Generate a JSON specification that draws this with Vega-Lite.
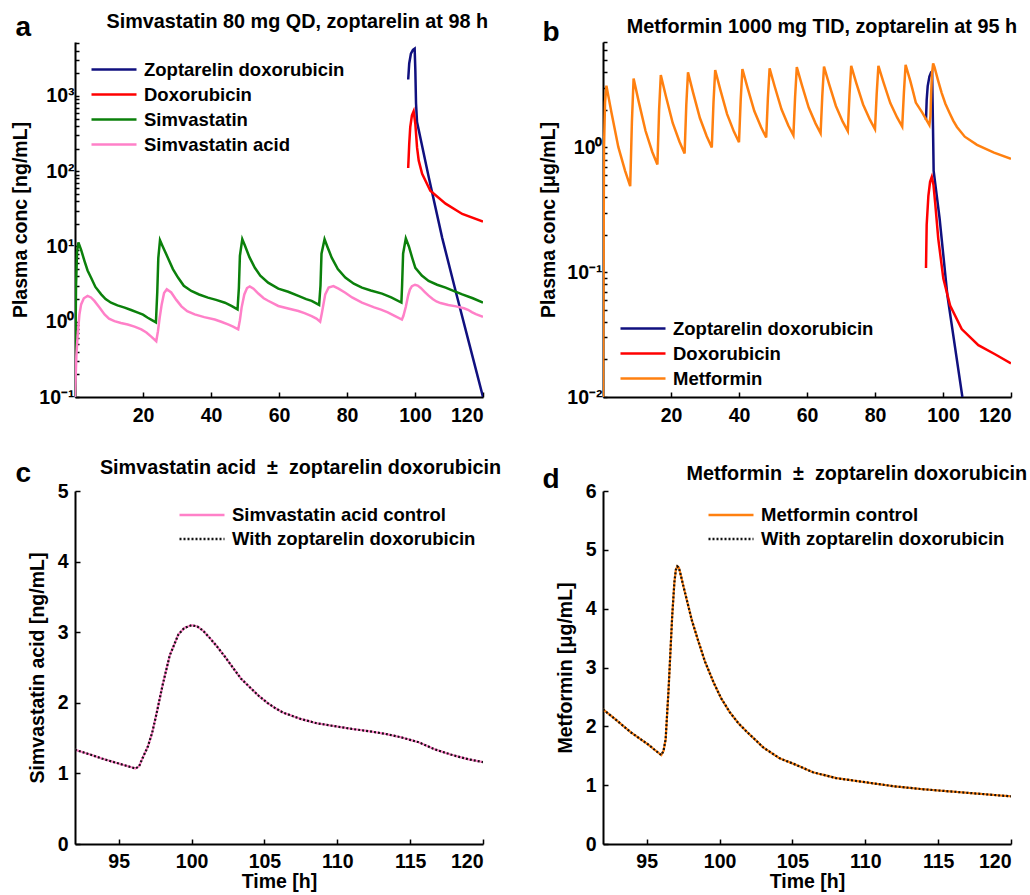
{
  "$schema": "https://vega.github.io/schema/vega-lite/v6.json",
  "padding": {"left": 10, "top": 12, "right": 2, "bottom": 2},
  "background": "white",
  "config": {
    "font": "Liberation Sans",
    "view": {"stroke": null},
    "axis": {
      "grid": false,
      "domainColor": "black",
      "domainWidth": 2,
      "tickColor": "black",
      "tickWidth": 1.5,
      "tickSize": -5,
      "labelPadding": 14,
      "labelFont": "Liberation Sans",
      "labelFontSize": 19.5,
      "labelFontWeight": "bold",
      "labelColor": "black",
      "labelOverlap": false,
      "titleFont": "Liberation Sans",
      "titleFontSize": 19.5,
      "titleFontWeight": "bold",
      "titleColor": "black"
    },
    "legend": {
      "title": null,
      "padding": 0,
      "symbolType": "stroke",
      "symbolSize": 2025,
      "symbolStrokeWidth": 2.5,
      "labelFont": "Liberation Sans",
      "labelFontSize": 18.5,
      "labelFontWeight": "bold",
      "labelColor": "black",
      "labelOffset": 6,
      "rowPadding": 0,
      "clipHeight": 25,
      "labelLimit": 400
    },
    "title": {"font": "Liberation Sans", "fontSize": 19.8, "fontWeight": "bold", "color": "black"}
  },
  "columns": 2,
  "bounds": "flush",
  "spacing": {"row": 94, "column": 120},
  "resolve": {"scale": {"color": "independent", "strokeDash": "independent", "x": "independent", "y": "independent"}, "legend": {"color": "independent", "strokeDash": "independent"}},
  "concat": [
    {
      "width": 408,
      "height": 355,
      "title": {"text": "Simvastatin 80 mg QD, zoptarelin at 98 h", "anchor": "end", "frame": "group", "dx": 5, "offset": -19},
      "layer": [
        {
          "data": {"values": [
            {"s": "Zoptarelin doxorubicin", "t": 98.0, "v": 1650},
            {"s": "Zoptarelin doxorubicin", "t": 98.3, "v": 2700},
            {"s": "Zoptarelin doxorubicin", "t": 98.8, "v": 3640},
            {"s": "Zoptarelin doxorubicin", "t": 99.4, "v": 4100},
            {"s": "Zoptarelin doxorubicin", "t": 99.9, "v": 4250},
            {"s": "Zoptarelin doxorubicin", "t": 100.1, "v": 2200},
            {"s": "Zoptarelin doxorubicin", "t": 100.3, "v": 800},
            {"s": "Zoptarelin doxorubicin", "t": 100.6, "v": 450},
            {"s": "Zoptarelin doxorubicin", "t": 104, "v": 85},
            {"s": "Zoptarelin doxorubicin", "t": 108, "v": 13},
            {"s": "Zoptarelin doxorubicin", "t": 112, "v": 2.5},
            {"s": "Zoptarelin doxorubicin", "t": 116, "v": 0.5},
            {"s": "Zoptarelin doxorubicin", "t": 120, "v": 0.1},
            {"s": "Doxorubicin", "t": 98.0, "v": 110},
            {"s": "Doxorubicin", "t": 98.3, "v": 230},
            {"s": "Doxorubicin", "t": 98.6, "v": 385},
            {"s": "Doxorubicin", "t": 99.1, "v": 550},
            {"s": "Doxorubicin", "t": 99.6, "v": 625},
            {"s": "Doxorubicin", "t": 100.1, "v": 425},
            {"s": "Doxorubicin", "t": 100.6, "v": 207},
            {"s": "Doxorubicin", "t": 101.1, "v": 138},
            {"s": "Doxorubicin", "t": 102.1, "v": 92},
            {"s": "Doxorubicin", "t": 104.5, "v": 55},
            {"s": "Doxorubicin", "t": 109, "v": 37},
            {"s": "Doxorubicin", "t": 113.9, "v": 27},
            {"s": "Doxorubicin", "t": 120, "v": 21.4},
            {"s": "Simvastatin", "t": 0, "v": 0.1},
            {"s": "Simvastatin", "t": 0.3, "v": 3},
            {"s": "Simvastatin", "t": 0.6, "v": 8.5},
            {"s": "Simvastatin", "t": 1.0, "v": 11.3},
            {"s": "Simvastatin", "t": 1.8, "v": 9.0},
            {"s": "Simvastatin", "t": 2.8, "v": 6.4},
            {"s": "Simvastatin", "t": 3.7, "v": 4.8},
            {"s": "Simvastatin", "t": 4.7, "v": 3.86},
            {"s": "Simvastatin", "t": 6, "v": 2.9},
            {"s": "Simvastatin", "t": 7.7, "v": 2.31},
            {"s": "Simvastatin", "t": 9, "v": 2.0},
            {"s": "Simvastatin", "t": 10.6, "v": 1.79},
            {"s": "Simvastatin", "t": 12.5, "v": 1.65},
            {"s": "Simvastatin", "t": 14.6, "v": 1.54},
            {"s": "Simvastatin", "t": 16.5, "v": 1.43},
            {"s": "Simvastatin", "t": 18.5, "v": 1.32},
            {"s": "Simvastatin", "t": 20, "v": 1.24},
            {"s": "Simvastatin", "t": 21.4, "v": 1.13},
            {"s": "Simvastatin", "t": 22.5, "v": 1.06},
            {"s": "Simvastatin", "t": 23.8, "v": 0.98},
            {"s": "Simvastatin", "t": 24.2, "v": 2.5},
            {"s": "Simvastatin", "t": 24.5, "v": 7},
            {"s": "Simvastatin", "t": 25.0, "v": 12.1},
            {"s": "Simvastatin", "t": 25.8, "v": 10},
            {"s": "Simvastatin", "t": 27.3, "v": 7.1},
            {"s": "Simvastatin", "t": 28.8, "v": 5.0},
            {"s": "Simvastatin", "t": 30.3, "v": 3.86},
            {"s": "Simvastatin", "t": 32, "v": 3.0},
            {"s": "Simvastatin", "t": 34.2, "v": 2.56},
            {"s": "Simvastatin", "t": 36.5, "v": 2.3},
            {"s": "Simvastatin", "t": 39.1, "v": 2.09},
            {"s": "Simvastatin", "t": 41.5, "v": 1.95},
            {"s": "Simvastatin", "t": 44.1, "v": 1.79},
            {"s": "Simvastatin", "t": 46, "v": 1.62},
            {"s": "Simvastatin", "t": 47.8, "v": 1.46},
            {"s": "Simvastatin", "t": 48.2, "v": 2.8},
            {"s": "Simvastatin", "t": 48.5, "v": 7.5},
            {"s": "Simvastatin", "t": 49.2, "v": 12.5},
            {"s": "Simvastatin", "t": 50, "v": 10.2},
            {"s": "Simvastatin", "t": 51.3, "v": 7.2},
            {"s": "Simvastatin", "t": 52.9, "v": 5.2},
            {"s": "Simvastatin", "t": 54.5, "v": 4.1},
            {"s": "Simvastatin", "t": 56.8, "v": 3.3},
            {"s": "Simvastatin", "t": 59.8, "v": 2.75},
            {"s": "Simvastatin", "t": 62.7, "v": 2.5},
            {"s": "Simvastatin", "t": 65.7, "v": 2.2},
            {"s": "Simvastatin", "t": 68, "v": 2.0},
            {"s": "Simvastatin", "t": 69.6, "v": 1.89},
            {"s": "Simvastatin", "t": 71.8, "v": 1.67},
            {"s": "Simvastatin", "t": 72.2, "v": 3},
            {"s": "Simvastatin", "t": 72.5, "v": 8},
            {"s": "Simvastatin", "t": 73.4, "v": 12.5},
            {"s": "Simvastatin", "t": 74.2, "v": 10},
            {"s": "Simvastatin", "t": 75.5, "v": 7.1},
            {"s": "Simvastatin", "t": 77.3, "v": 5.0},
            {"s": "Simvastatin", "t": 79.5, "v": 3.86},
            {"s": "Simvastatin", "t": 82, "v": 3.2},
            {"s": "Simvastatin", "t": 84.4, "v": 2.84},
            {"s": "Simvastatin", "t": 87, "v": 2.6},
            {"s": "Simvastatin", "t": 90.3, "v": 2.36},
            {"s": "Simvastatin", "t": 93, "v": 2.1},
            {"s": "Simvastatin", "t": 96, "v": 1.8},
            {"s": "Simvastatin", "t": 96.2, "v": 3},
            {"s": "Simvastatin", "t": 96.5, "v": 8},
            {"s": "Simvastatin", "t": 97.3, "v": 12.8},
            {"s": "Simvastatin", "t": 98.2, "v": 10},
            {"s": "Simvastatin", "t": 99.2, "v": 7},
            {"s": "Simvastatin", "t": 100.1, "v": 5.2},
            {"s": "Simvastatin", "t": 102, "v": 4.1},
            {"s": "Simvastatin", "t": 104, "v": 3.48},
            {"s": "Simvastatin", "t": 106.5, "v": 3.1},
            {"s": "Simvastatin", "t": 109, "v": 2.84},
            {"s": "Simvastatin", "t": 111.5, "v": 2.55},
            {"s": "Simvastatin", "t": 113.9, "v": 2.31},
            {"s": "Simvastatin", "t": 117, "v": 2.05},
            {"s": "Simvastatin", "t": 120, "v": 1.8},
            {"s": "Simvastatin acid", "t": 0, "v": 0.1},
            {"s": "Simvastatin acid", "t": 0.4, "v": 0.35},
            {"s": "Simvastatin acid", "t": 0.8, "v": 0.68},
            {"s": "Simvastatin acid", "t": 1.3, "v": 1.25},
            {"s": "Simvastatin acid", "t": 1.8, "v": 1.7},
            {"s": "Simvastatin acid", "t": 2.6, "v": 2.05},
            {"s": "Simvastatin acid", "t": 3.7, "v": 2.2},
            {"s": "Simvastatin acid", "t": 4.7, "v": 2.1},
            {"s": "Simvastatin acid", "t": 5.7, "v": 1.89},
            {"s": "Simvastatin acid", "t": 7.2, "v": 1.55},
            {"s": "Simvastatin acid", "t": 8.7, "v": 1.25},
            {"s": "Simvastatin acid", "t": 10, "v": 1.1},
            {"s": "Simvastatin acid", "t": 11.6, "v": 1.02},
            {"s": "Simvastatin acid", "t": 13.5, "v": 0.96},
            {"s": "Simvastatin acid", "t": 15.5, "v": 0.92},
            {"s": "Simvastatin acid", "t": 17.5, "v": 0.86},
            {"s": "Simvastatin acid", "t": 19.5, "v": 0.79},
            {"s": "Simvastatin acid", "t": 21, "v": 0.72},
            {"s": "Simvastatin acid", "t": 22.5, "v": 0.63},
            {"s": "Simvastatin acid", "t": 23.9, "v": 0.55},
            {"s": "Simvastatin acid", "t": 24.4, "v": 0.75},
            {"s": "Simvastatin acid", "t": 24.9, "v": 1.13},
            {"s": "Simvastatin acid", "t": 25.5, "v": 1.7},
            {"s": "Simvastatin acid", "t": 26.2, "v": 2.4},
            {"s": "Simvastatin acid", "t": 27, "v": 2.7},
            {"s": "Simvastatin acid", "t": 28.3, "v": 2.45},
            {"s": "Simvastatin acid", "t": 29.8, "v": 1.95},
            {"s": "Simvastatin acid", "t": 31.3, "v": 1.6},
            {"s": "Simvastatin acid", "t": 33, "v": 1.38},
            {"s": "Simvastatin acid", "t": 35.2, "v": 1.25},
            {"s": "Simvastatin acid", "t": 38, "v": 1.15},
            {"s": "Simvastatin acid", "t": 41.1, "v": 1.07},
            {"s": "Simvastatin acid", "t": 43, "v": 1.0},
            {"s": "Simvastatin acid", "t": 45, "v": 0.92},
            {"s": "Simvastatin acid", "t": 46.5, "v": 0.86},
            {"s": "Simvastatin acid", "t": 48, "v": 0.79},
            {"s": "Simvastatin acid", "t": 48.5, "v": 1.05},
            {"s": "Simvastatin acid", "t": 49, "v": 1.54},
            {"s": "Simvastatin acid", "t": 49.8, "v": 2.3},
            {"s": "Simvastatin acid", "t": 50.6, "v": 2.8},
            {"s": "Simvastatin acid", "t": 51.4, "v": 2.95},
            {"s": "Simvastatin acid", "t": 52.5, "v": 2.75},
            {"s": "Simvastatin acid", "t": 54, "v": 2.35},
            {"s": "Simvastatin acid", "t": 55.5, "v": 2.05},
            {"s": "Simvastatin acid", "t": 56.8, "v": 1.9},
            {"s": "Simvastatin acid", "t": 59.8, "v": 1.62},
            {"s": "Simvastatin acid", "t": 62.7, "v": 1.5},
            {"s": "Simvastatin acid", "t": 65.7, "v": 1.39},
            {"s": "Simvastatin acid", "t": 67.5, "v": 1.3},
            {"s": "Simvastatin acid", "t": 69.6, "v": 1.19},
            {"s": "Simvastatin acid", "t": 71, "v": 1.1},
            {"s": "Simvastatin acid", "t": 72.1, "v": 1.0},
            {"s": "Simvastatin acid", "t": 72.6, "v": 1.3},
            {"s": "Simvastatin acid", "t": 73.6, "v": 2.31},
            {"s": "Simvastatin acid", "t": 74.6, "v": 2.85},
            {"s": "Simvastatin acid", "t": 76, "v": 2.98},
            {"s": "Simvastatin acid", "t": 77.5, "v": 2.75},
            {"s": "Simvastatin acid", "t": 79.5, "v": 2.43},
            {"s": "Simvastatin acid", "t": 81.5, "v": 2.1},
            {"s": "Simvastatin acid", "t": 84.4, "v": 1.79},
            {"s": "Simvastatin acid", "t": 88, "v": 1.55},
            {"s": "Simvastatin acid", "t": 90, "v": 1.45},
            {"s": "Simvastatin acid", "t": 92, "v": 1.335},
            {"s": "Simvastatin acid", "t": 94, "v": 1.2},
            {"s": "Simvastatin acid", "t": 96.15, "v": 1.07},
            {"s": "Simvastatin acid", "t": 96.6, "v": 1.2},
            {"s": "Simvastatin acid", "t": 97.3, "v": 1.58},
            {"s": "Simvastatin acid", "t": 98, "v": 2.24},
            {"s": "Simvastatin acid", "t": 98.5, "v": 2.67},
            {"s": "Simvastatin acid", "t": 99.1, "v": 2.97},
            {"s": "Simvastatin acid", "t": 100, "v": 3.1},
            {"s": "Simvastatin acid", "t": 100.8, "v": 3.02},
            {"s": "Simvastatin acid", "t": 101.7, "v": 2.81},
            {"s": "Simvastatin acid", "t": 102.9, "v": 2.48},
            {"s": "Simvastatin acid", "t": 104, "v": 2.22},
            {"s": "Simvastatin acid", "t": 105.2, "v": 2.0},
            {"s": "Simvastatin acid", "t": 106.3, "v": 1.86},
            {"s": "Simvastatin acid", "t": 107.5, "v": 1.77},
            {"s": "Simvastatin acid", "t": 109.8, "v": 1.67},
            {"s": "Simvastatin acid", "t": 112.1, "v": 1.6},
            {"s": "Simvastatin acid", "t": 114.4, "v": 1.51},
            {"s": "Simvastatin acid", "t": 115.6, "v": 1.44},
            {"s": "Simvastatin acid", "t": 116.7, "v": 1.34},
            {"s": "Simvastatin acid", "t": 117.9, "v": 1.26},
            {"s": "Simvastatin acid", "t": 120, "v": 1.16}
          ]},
          "mark": {"type": "line", "strokeWidth": 2.5, "clip": true},
          "encoding": {
            "x": {"field": "t", "type": "quantitative", "scale": {"domain": [0, 120], "nice": false},
                  "axis": {"values": [20, 40, 60, 80, 100, 120], "title": null}},
            "y": {"field": "v", "type": "quantitative", "scale": {"type": "log", "domain": [0.1, 5200], "nice": false},
                  "axis": {"title": "Plasma conc [ng/mL]", "titlePadding": 8, "labelPadding": 5, "tickSize": -4,
                           "values": [0.1,0.2,0.3,0.4,0.5,0.6,0.7,0.8,0.9,1,2,3,4,5,6,7,8,9,10,20,30,40,50,60,70,80,90,100,200,300,400,500,600,700,800,900,1000,2000,3000,4000,5000],
                           "labelExpr": "datum.value == 0.1 ? '10⁻¹' : datum.value == 1 ? '10⁰' : datum.value == 10 ? '10¹' : datum.value == 100 ? '10²' : datum.value == 1000 ? '10³' : ''"}},
            "color": {"field": "s", "type": "nominal",
                      "scale": {"domain": ["Zoptarelin doxorubicin", "Doxorubicin", "Simvastatin", "Simvastatin acid"], "range": ["#10107F", "#FF0000", "#0B800B", "#FF80C8"]},
                      "legend": {"orient": "none", "legendX": 15, "legendY": 15}}
          }
        },
        {
          "data": {"values": [{"t": 60}]},
          "mark": {"type": "point", "opacity": 0},
          "encoding": {
            "x": {"field": "t", "type": "quantitative", "scale": {"domain": [0, 120], "nice": false},
                  "axis": {"orient": "top", "domain": false, "ticks": false, "labels": false, "title": "a",
                           "titleX": -60, "titleY": -7, "titleAlign": "left", "titleBaseline": "alphabetic", "titleAngle": 0, "titleFontSize": 28}}
          }
        }
      ],
      "resolve": {"axis": {"x": "independent"}}
    },
    {
      "width": 408,
      "height": 355,
      "title": {"text": "Metformin 1000 mg TID, zoptarelin at 95 h", "anchor": "end", "frame": "group", "dx": 6, "offset": -19},
      "layer": [
        {
          "data": {"values": [
            {"s": "Zoptarelin doxorubicin", "t": 95.0, "v": 1.66},
            {"s": "Zoptarelin doxorubicin", "t": 95.2, "v": 2.4},
            {"s": "Zoptarelin doxorubicin", "t": 95.5, "v": 3.1},
            {"s": "Zoptarelin doxorubicin", "t": 96.0, "v": 3.7},
            {"s": "Zoptarelin doxorubicin", "t": 96.5, "v": 4.0},
            {"s": "Zoptarelin doxorubicin", "t": 96.8, "v": 4.05},
            {"s": "Zoptarelin doxorubicin", "t": 97.05, "v": 1.5},
            {"s": "Zoptarelin doxorubicin", "t": 97.25, "v": 0.65},
            {"s": "Zoptarelin doxorubicin", "t": 99, "v": 0.27},
            {"s": "Zoptarelin doxorubicin", "t": 101.3, "v": 0.065},
            {"s": "Zoptarelin doxorubicin", "t": 105.7, "v": 0.01},
            {"s": "Doxorubicin", "t": 95.0, "v": 0.108},
            {"s": "Doxorubicin", "t": 95.2, "v": 0.24},
            {"s": "Doxorubicin", "t": 95.7, "v": 0.41},
            {"s": "Doxorubicin", "t": 96.2, "v": 0.53},
            {"s": "Doxorubicin", "t": 96.7, "v": 0.58},
            {"s": "Doxorubicin", "t": 97.2, "v": 0.5},
            {"s": "Doxorubicin", "t": 97.7, "v": 0.36},
            {"s": "Doxorubicin", "t": 98.6, "v": 0.186},
            {"s": "Doxorubicin", "t": 100.1, "v": 0.089},
            {"s": "Doxorubicin", "t": 102.1, "v": 0.054},
            {"s": "Doxorubicin", "t": 105.5, "v": 0.035},
            {"s": "Doxorubicin", "t": 110.4, "v": 0.026},
            {"s": "Doxorubicin", "t": 115.3, "v": 0.022},
            {"s": "Doxorubicin", "t": 120, "v": 0.0186},
            {"s": "Metformin", "t": 0, "v": 0.01},
            {"s": "Metformin", "t": 0.3, "v": 1.0},
            {"s": "Metformin", "t": 0.6, "v": 2.3},
            {"s": "Metformin", "t": 1.0, "v": 3.13},
            {"s": "Metformin", "t": 2.5, "v": 1.9},
            {"s": "Metformin", "t": 4.5, "v": 1.01},
            {"s": "Metformin", "t": 6.5, "v": 0.65},
            {"s": "Metformin", "t": 8.0, "v": 0.49},
            {"s": "Metformin", "t": 8.5, "v": 1.6},
            {"s": "Metformin", "t": 9.0, "v": 3.57},
            {"s": "Metformin", "t": 10.5, "v": 2.33},
            {"s": "Metformin", "t": 12.5, "v": 1.36},
            {"s": "Metformin", "t": 14.5, "v": 0.92},
            {"s": "Metformin", "t": 16, "v": 0.73},
            {"s": "Metformin", "t": 16.5, "v": 2.0},
            {"s": "Metformin", "t": 17, "v": 3.8},
            {"s": "Metformin", "t": 18.5, "v": 2.57},
            {"s": "Metformin", "t": 20.5, "v": 1.57},
            {"s": "Metformin", "t": 22.5, "v": 1.11},
            {"s": "Metformin", "t": 24, "v": 0.895},
            {"s": "Metformin", "t": 24.5, "v": 2.2},
            {"s": "Metformin", "t": 25, "v": 4.0},
            {"s": "Metformin", "t": 26.5, "v": 2.75},
            {"s": "Metformin", "t": 28.5, "v": 1.72},
            {"s": "Metformin", "t": 30.5, "v": 1.23},
            {"s": "Metformin", "t": 32, "v": 1.0},
            {"s": "Metformin", "t": 32.5, "v": 2.3},
            {"s": "Metformin", "t": 33, "v": 4.17},
            {"s": "Metformin", "t": 34.5, "v": 2.91},
            {"s": "Metformin", "t": 36.5, "v": 1.85},
            {"s": "Metformin", "t": 38.5, "v": 1.34},
            {"s": "Metformin", "t": 40, "v": 1.1},
            {"s": "Metformin", "t": 40.5, "v": 2.4},
            {"s": "Metformin", "t": 41, "v": 4.25},
            {"s": "Metformin", "t": 42.5, "v": 3.02},
            {"s": "Metformin", "t": 44.5, "v": 1.96},
            {"s": "Metformin", "t": 46.5, "v": 1.45},
            {"s": "Metformin", "t": 48, "v": 1.2},
            {"s": "Metformin", "t": 48.5, "v": 2.5},
            {"s": "Metformin", "t": 49, "v": 4.3},
            {"s": "Metformin", "t": 50.5, "v": 3.08},
            {"s": "Metformin", "t": 52.5, "v": 2.02},
            {"s": "Metformin", "t": 54.5, "v": 1.5},
            {"s": "Metformin", "t": 56, "v": 1.25},
            {"s": "Metformin", "t": 56.5, "v": 2.55},
            {"s": "Metformin", "t": 57, "v": 4.4},
            {"s": "Metformin", "t": 58.5, "v": 3.16},
            {"s": "Metformin", "t": 60.5, "v": 2.09},
            {"s": "Metformin", "t": 62.5, "v": 1.56},
            {"s": "Metformin", "t": 64, "v": 1.3},
            {"s": "Metformin", "t": 64.5, "v": 2.6},
            {"s": "Metformin", "t": 65, "v": 4.45},
            {"s": "Metformin", "t": 66.5, "v": 3.22},
            {"s": "Metformin", "t": 68.5, "v": 2.15},
            {"s": "Metformin", "t": 70.5, "v": 1.61},
            {"s": "Metformin", "t": 72, "v": 1.35},
            {"s": "Metformin", "t": 72.5, "v": 2.65},
            {"s": "Metformin", "t": 73, "v": 4.5},
            {"s": "Metformin", "t": 74.5, "v": 3.28},
            {"s": "Metformin", "t": 76.5, "v": 2.21},
            {"s": "Metformin", "t": 78.5, "v": 1.67},
            {"s": "Metformin", "t": 80, "v": 1.4},
            {"s": "Metformin", "t": 80.5, "v": 2.7},
            {"s": "Metformin", "t": 81, "v": 4.5},
            {"s": "Metformin", "t": 82.5, "v": 3.33},
            {"s": "Metformin", "t": 84.5, "v": 2.27},
            {"s": "Metformin", "t": 86.5, "v": 1.74},
            {"s": "Metformin", "t": 88, "v": 1.47},
            {"s": "Metformin", "t": 88.5, "v": 2.75},
            {"s": "Metformin", "t": 89, "v": 4.6},
            {"s": "Metformin", "t": 90.4, "v": 3.4},
            {"s": "Metformin", "t": 91.2, "v": 2.8},
            {"s": "Metformin", "t": 92, "v": 2.29},
            {"s": "Metformin", "t": 93.9, "v": 1.9},
            {"s": "Metformin", "t": 96, "v": 1.51},
            {"s": "Metformin", "t": 96.3, "v": 1.78},
            {"s": "Metformin", "t": 96.5, "v": 2.63},
            {"s": "Metformin", "t": 96.75, "v": 3.88},
            {"s": "Metformin", "t": 97.1, "v": 4.72},
            {"s": "Metformin", "t": 97.5, "v": 4.4},
            {"s": "Metformin", "t": 98.5, "v": 3.48},
            {"s": "Metformin", "t": 99.6, "v": 2.74},
            {"s": "Metformin", "t": 100.7, "v": 2.24},
            {"s": "Metformin", "t": 101.9, "v": 1.9},
            {"s": "Metformin", "t": 103, "v": 1.64},
            {"s": "Metformin", "t": 104.1, "v": 1.46},
            {"s": "Metformin", "t": 106.4, "v": 1.22},
            {"s": "Metformin", "t": 110, "v": 1.05},
            {"s": "Metformin", "t": 115, "v": 0.91},
            {"s": "Metformin", "t": 120, "v": 0.81}
          ]},
          "mark": {"type": "line", "strokeWidth": 2.5, "clip": true},
          "encoding": {
            "x": {"field": "t", "type": "quantitative", "scale": {"domain": [0, 120], "nice": false},
                  "axis": {"values": [20, 40, 60, 80, 100, 120], "title": null}},
            "y": {"field": "v", "type": "quantitative", "scale": {"type": "log", "domain": [0.01, 7], "nice": false},
                  "axis": {"title": "Plasma conc [μg/mL]", "titlePadding": 8, "labelPadding": 5, "tickSize": -4,
                           "values": [0.01,0.02,0.03,0.04,0.05,0.06,0.07,0.08,0.09,0.1,0.2,0.3,0.4,0.5,0.6,0.7,0.8,0.9,1,2,3,4,5,6,7],
                           "labelExpr": "datum.value == 0.01 ? '10⁻²' : datum.value == 0.1 ? '10⁻¹' : datum.value == 1 ? '10⁰' : ''"}},
            "color": {"field": "s", "type": "nominal",
                      "scale": {"domain": ["Zoptarelin doxorubicin", "Doxorubicin", "Metformin"], "range": ["#10107F", "#FF0000", "#FF8010"]},
                      "legend": {"orient": "none", "legendX": 16, "legendY": 274}}
          }
        },
        {
          "data": {"values": [{"t": 60}]},
          "mark": {"type": "point", "opacity": 0},
          "encoding": {
            "x": {"field": "t", "type": "quantitative", "scale": {"domain": [0, 120], "nice": false},
                  "axis": {"orient": "top", "domain": false, "ticks": false, "labels": false, "title": "b",
                           "titleX": -61, "titleY": -2, "titleAlign": "left", "titleBaseline": "alphabetic", "titleAngle": 0, "titleFontSize": 28}}
          }
        }
      ],
      "resolve": {"axis": {"x": "independent"}}
    },
    {
      "width": 408,
      "height": 353,
      "title": {"text": "Simvastatin acid\u00a0 ±\u00a0 zoptarelin doxorubicin", "anchor": "end", "frame": "group", "dx": 18, "offset": -19},
      "layer": [
        {
          "data": {"values": [
            {"t": 92, "c": 1.335}, {"t": 93, "c": 1.27}, {"t": 94, "c": 1.2}, {"t": 95, "c": 1.14},
            {"t": 96.15, "c": 1.07}, {"t": 96.4, "c": 1.1}, {"t": 96.6, "c": 1.2}, {"t": 97, "c": 1.38},
            {"t": 97.3, "c": 1.58}, {"t": 97.6, "c": 1.85}, {"t": 98, "c": 2.24}, {"t": 98.5, "c": 2.67},
            {"t": 99.1, "c": 2.97}, {"t": 99.5, "c": 3.06}, {"t": 100, "c": 3.1}, {"t": 100.4, "c": 3.08},
            {"t": 100.8, "c": 3.02}, {"t": 101.2, "c": 2.93}, {"t": 101.7, "c": 2.81}, {"t": 102.3, "c": 2.65},
            {"t": 102.9, "c": 2.48}, {"t": 103.4, "c": 2.34}, {"t": 104, "c": 2.22}, {"t": 104.6, "c": 2.1},
            {"t": 105.2, "c": 2.0}, {"t": 105.7, "c": 1.93}, {"t": 106.3, "c": 1.86}, {"t": 107.5, "c": 1.77},
            {"t": 108.6, "c": 1.71}, {"t": 109.8, "c": 1.67}, {"t": 111, "c": 1.63}, {"t": 112.1, "c": 1.6},
            {"t": 113.3, "c": 1.56}, {"t": 114.4, "c": 1.51}, {"t": 115.6, "c": 1.44}, {"t": 116.7, "c": 1.34},
            {"t": 117.9, "c": 1.26}, {"t": 119, "c": 1.2}, {"t": 120, "c": 1.16}
          ]},
          "transform": [
            {"calculate": "datum.c", "as": "Simvastatin acid control"},
            {"calculate": "datum.c", "as": "With zoptarelin doxorubicin"},
            {"fold": ["Simvastatin acid control", "With zoptarelin doxorubicin"], "as": ["s", "v"]}
          ],
          "mark": {"type": "line", "strokeWidth": 2.2, "clip": true},
          "encoding": {
            "x": {"field": "t", "type": "quantitative", "scale": {"domain": [92, 120], "nice": false},
                  "axis": {"values": [95, 100, 105, 110, 115, 120], "title": "Time [h]", "titlePadding": 2, "labelPadding": 13}},
            "y": {"field": "v", "type": "quantitative", "scale": {"domain": [0, 5], "nice": false},
                  "axis": {"values": [0, 1, 2, 3, 4, 5], "title": "Simvastatin acid [ng/mL]", "titlePadding": 10, "labelPadding": 12}},
            "color": {"field": "s", "type": "nominal",
                      "scale": {"domain": ["Simvastatin acid control", "With zoptarelin doxorubicin"], "range": ["#FF80C8", "#111111"]},
                      "legend": {"orient": "none", "legendX": 103, "legendY": 12, "clipHeight": 24}},
            "strokeDash": {"field": "s", "type": "nominal",
                      "scale": {"domain": ["Simvastatin acid control", "With zoptarelin doxorubicin"], "range": [[1, 0], [2, 2]]},
                      "legend": {"orient": "none", "legendX": 103, "legendY": 12, "clipHeight": 24}}
          }
        },
        {
          "data": {"values": [{"t": 100}]},
          "mark": {"type": "point", "opacity": 0},
          "encoding": {
            "x": {"field": "t", "type": "quantitative", "scale": {"domain": [92, 120], "nice": false},
                  "axis": {"orient": "top", "domain": false, "ticks": false, "labels": false, "title": "c",
                           "titleX": -60, "titleY": -10, "titleAlign": "left", "titleBaseline": "alphabetic", "titleAngle": 0, "titleFontSize": 28}}
          }
        }
      ],
      "resolve": {"axis": {"x": "independent"}}
    },
    {
      "width": 408,
      "height": 353,
      "title": {"text": "Metformin\u00a0 ±\u00a0 zoptarelin doxorubicin", "anchor": "end", "frame": "group", "dx": 16, "offset": -19},
      "layer": [
        {
          "data": {"values": [
            {"t": 92, "c": 2.29}, {"t": 92.8, "c": 2.13}, {"t": 93.9, "c": 1.9}, {"t": 95.05, "c": 1.7},
            {"t": 96, "c": 1.51}, {"t": 96.15, "c": 1.58}, {"t": 96.3, "c": 1.78}, {"t": 96.5, "c": 2.63},
            {"t": 96.75, "c": 3.88}, {"t": 96.9, "c": 4.45}, {"t": 97.0, "c": 4.66}, {"t": 97.1, "c": 4.72},
            {"t": 97.2, "c": 4.7}, {"t": 97.3, "c": 4.61}, {"t": 97.5, "c": 4.4}, {"t": 97.8, "c": 4.1},
            {"t": 98.1, "c": 3.8}, {"t": 98.5, "c": 3.48}, {"t": 99, "c": 3.1}, {"t": 99.6, "c": 2.74},
            {"t": 100.1, "c": 2.48}, {"t": 100.7, "c": 2.24}, {"t": 101.3, "c": 2.05}, {"t": 101.9, "c": 1.9},
            {"t": 102.5, "c": 1.76}, {"t": 103, "c": 1.64}, {"t": 104.1, "c": 1.46}, {"t": 105.3, "c": 1.34},
            {"t": 106.4, "c": 1.22}, {"t": 108, "c": 1.12}, {"t": 110, "c": 1.05}, {"t": 112, "c": 0.98},
            {"t": 114, "c": 0.93}, {"t": 116, "c": 0.89}, {"t": 118, "c": 0.85}, {"t": 120, "c": 0.81}
          ]},
          "transform": [
            {"calculate": "datum.c", "as": "Metformin control"},
            {"calculate": "datum.c", "as": "With zoptarelin doxorubicin"},
            {"fold": ["Metformin control", "With zoptarelin doxorubicin"], "as": ["s", "v"]}
          ],
          "mark": {"type": "line", "strokeWidth": 2.2, "clip": true},
          "encoding": {
            "x": {"field": "t", "type": "quantitative", "scale": {"domain": [92, 120], "nice": false},
                  "axis": {"values": [95, 100, 105, 110, 115, 120], "title": "Time [h]", "titlePadding": 2, "labelPadding": 13}},
            "y": {"field": "v", "type": "quantitative", "scale": {"domain": [0, 6], "nice": false},
                  "axis": {"values": [0, 1, 2, 3, 4, 5, 6], "title": "Metformin [μg/mL]", "titlePadding": 10, "labelPadding": 12}},
            "color": {"field": "s", "type": "nominal",
                      "scale": {"domain": ["Metformin control", "With zoptarelin doxorubicin"], "range": ["#FF8010", "#111111"]},
                      "legend": {"orient": "none", "legendX": 104, "legendY": 12, "clipHeight": 24}},
            "strokeDash": {"field": "s", "type": "nominal",
                      "scale": {"domain": ["Metformin control", "With zoptarelin doxorubicin"], "range": [[1, 0], [2, 2]]},
                      "legend": {"orient": "none", "legendX": 104, "legendY": 12, "clipHeight": 24}}
          }
        },
        {
          "data": {"values": [{"t": 100}]},
          "mark": {"type": "point", "opacity": 0},
          "encoding": {
            "x": {"field": "t", "type": "quantitative", "scale": {"domain": [92, 120], "nice": false},
                  "axis": {"orient": "top", "domain": false, "ticks": false, "labels": false, "title": "d",
                           "titleX": -61, "titleY": -4, "titleAlign": "left", "titleBaseline": "alphabetic", "titleAngle": 0, "titleFontSize": 28}}
          }
        }
      ],
      "resolve": {"axis": {"x": "independent"}}
    }
  ]
}
